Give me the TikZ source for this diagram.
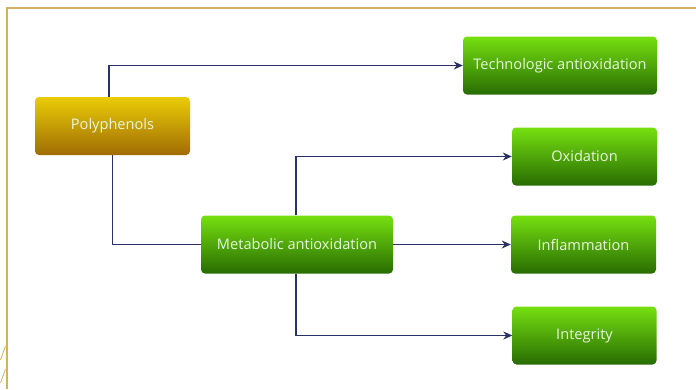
\documentclass[tikz,border=0pt]{standalone}
\usepackage{fontspec}
\setmainfont{Open Sans}
\usetikzlibrary{arrows.meta}
\definecolor{framegold}{RGB}{214,176,98}
\definecolor{linknavy}{RGB}{40,50,100}
\definecolor{greentop}{RGB}{118,224,16}
\definecolor{greenbot}{RGB}{40,108,2}
\definecolor{goldtop}{RGB}{234,204,6}
\definecolor{goldbot}{RGB}{160,108,4}
\definecolor{labeltext}{RGB}{232,246,220}
\tikzset{
  box/.style={rounded corners=4pt, minimum height=58pt, text=labeltext,
    font=\fontsize{14.6}{16}\selectfont, inner sep=0pt},
  greenbox/.style={box, top color=greentop, bottom color=greenbot},
  goldbox/.style={box, top color=goldtop, bottom color=goldbot},
  link/.style={draw=linknavy, line width=1.3pt},
  arrowlink/.style={link, -{Stealth[length=9pt,width=8pt]}}
}
\begin{document}
\begin{tikzpicture}[x=1pt,y=-1pt]
\useasboundingbox (0,0) rectangle (696,389);
\fill[white] (0,0) rectangle (696,389);
% outer frame, top and left edges
\draw[framegold, line width=1.6pt] (7,389) -- (7,8) -- (696,8);
\draw[framegold, line width=0.8pt] (0.5,360) -- (5.5,346) (0.5,383) -- (5.5,369);

% boxes
\node[goldbox,  minimum width=155pt] (poly) at (112.5,126) {Polyphenols};
\node[greenbox, minimum width=194pt] (tech) at (560,65.5) {Technologic antioxidation};
\node[greenbox, minimum width=192pt] (meta) at (297,244.5) {Metabolic antioxidation};
\node[greenbox, minimum width=145pt] (oxid) at (584.5,156.5) {Oxidation};
\node[greenbox, minimum width=145pt] (infl) at (583.5,244.5) {Inflammation};
\node[greenbox, minimum width=144pt] (inte) at (584.5,335.5) {Integrity};

% connectors
\draw[arrowlink] (poly.north -| 109,0) |- (tech.west);
\draw[link] (poly.south) |- (meta.west);
\draw[arrowlink] (meta.north -| 296,0) |- (oxid.west);
\draw[arrowlink] (meta.east) -- (infl.west);
\draw[arrowlink] (meta.south -| 296,0) |- (inte.west);
\end{tikzpicture}
\end{document}
